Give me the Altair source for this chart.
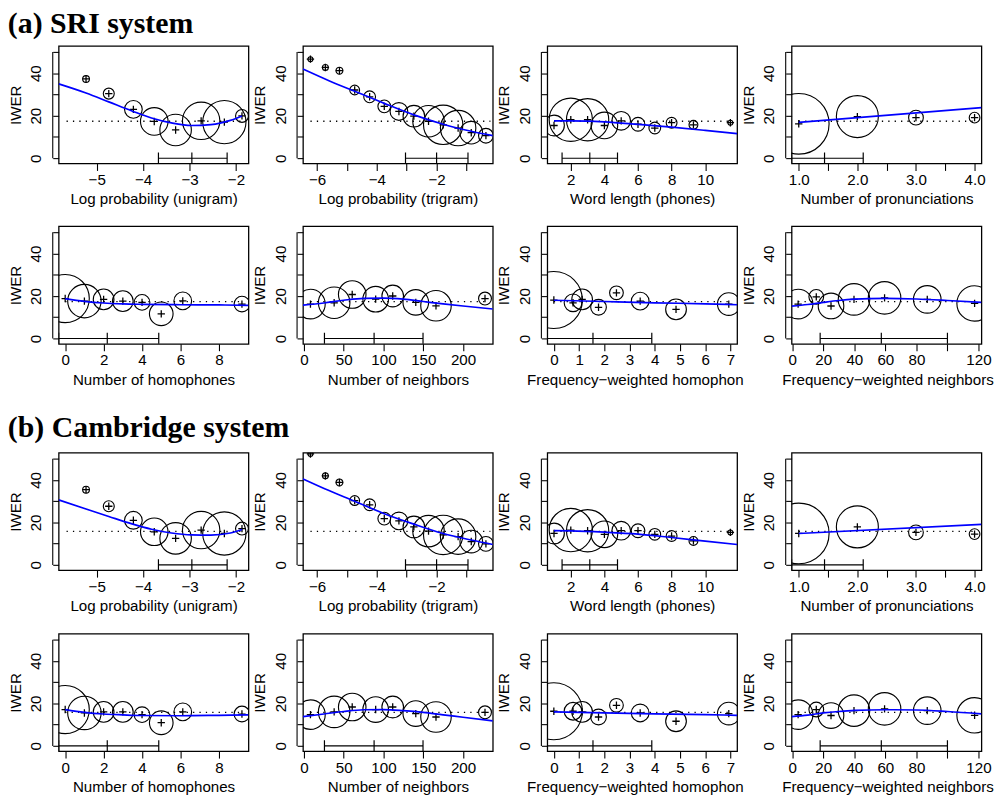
import altair as alt
import pandas as pd

SANS = "Liberation Sans"
SERIF = "Liberation Serif"
FS = 15.4

# ---------------- data ----------------
SRI_MEAN = 17.4
CAM_MEAN = 15.8

# Log probability (unigram)
unigram_x = [-5.23, -4.74, -4.21, -3.76, -3.30, -2.75, -2.25, -1.87]
unigram_n = [0.8, 2.1, 5.5, 13.3, 17.4, 24.5, 32.8, 2.9]
unigram_sri = [37.3, 30.4, 23.0, 17.3, 13.3, 17.6, 17.0, 19.9]
unigram_cam = [35.4, 27.6, 21.0, 15.6, 12.5, 16.4, 14.8, 17.1]
unigram_fit_x = [-5.82, -5.23, -4.74, -4.24, -3.82, -3.39, -2.96, -2.54, -2.12, -1.87]
unigram_fit_sri = [35.0, 30.7, 26.5, 22.2, 18.9, 16.6, 15.4, 15.8, 17.8, 19.9]
unigram_fit_cam = [30.6, 26.3, 22.8, 19.3, 16.8, 15.0, 14.1, 14.0, 15.0, 16.7]
unigram_span = [-5.65, -1.80]
unigram_quart = [-3.67, -2.95, -2.19]
unigram_domain = [-5.82, -1.73]
unigram_ticks = [-5, -4, -3, -2]
unigram_labeled = [-5, -4, -3, -2]

# Log probability (trigram)
trigram_x = [-6.22, -5.72, -5.25, -4.74, -4.24, -3.75, -3.26, -2.76, -2.27, -1.78, -1.28, -0.84, -0.35]
trigram_n = [0.42, 0.61, 0.83, 1.69, 2.44, 2.86, 5.49, 8.2, 17.4, 27.1, 22.0, 8.97, 3.81]
trigram_sri = [46.6, 42.7, 41.2, 32.1, 28.9, 24.4, 22.0, 19.8, 17.4, 15.7, 14.2, 12.0, 10.6]
trigram_cam = [52.2, 41.9, 38.8, 30.3, 28.3, 21.8, 20.7, 17.9, 15.9, 14.1, 13.3, 11.0, 9.9]
trigram_fit_x = [-6.47, -5.6, -4.74, -3.75, -2.76, -1.78, -0.84, -0.12]
trigram_fit_sri = [42.0, 36.5, 31.5, 25.8, 20.4, 16.0, 12.7, 10.6]
trigram_fit_cam = [40.5, 35.0, 30.0, 24.1, 19.2, 14.8, 11.7, 9.6]
trigram_span = [-6.22, -0.2]
trigram_quart = [-3.04, -2.0, -0.95]
trigram_domain = [-6.47, -0.12]
trigram_ticks = [-6, -5, -4, -3, -2, -1]
trigram_labeled = [-6, -4, -2]

# Word length (phones)
wordlen_x = [1, 2, 3, 4, 5, 6, 7, 8, 9.3, 11.5]
wordlen_n = [7.5, 32.8, 31.3, 12.4, 6.1, 3.3, 2.4, 2.05, 1.37, 0.42]
wordlen_sri = [15.4, 18.1, 18.1, 15.4, 17.6, 16.0, 14.2, 16.7, 15.7, 16.7]
wordlen_cam = [14.8, 16.4, 16.1, 14.4, 16.1, 16.1, 14.4, 13.6, 11.3, 15.3]
wordlen_fit_x = [1, 2, 4, 6, 8, 10, 11.9]
wordlen_fit_sri = [17.6, 17.6, 17.1, 15.9, 14.6, 13.1, 11.6]
wordlen_fit_cam = [16.1, 16.0, 15.4, 14.5, 12.9, 11.2, 9.6]
wordlen_span = [1, 11.5]
wordlen_quart = [1.48, 3.13, 4.78]
wordlen_domain = [0.6, 11.9]
wordlen_ticks = [2, 4, 6, 8, 10]
wordlen_labeled = [2, 4, 6, 8, 10]

# Number of pronunciations
pron_x = [1, 2, 3, 4]
pron_n = [64.5, 30.9, 3.8, 2.0]
pron_sri = [16.2, 19.6, 19.1, 19.1]
pron_cam = [14.8, 17.9, 15.3, 14.5]
pron_fit_x = [1.0, 4.117]
pron_fit_sri = [16.9, 23.8]
pron_fit_cam = [14.8, 19.1]
pron_span = [1, 4]
pron_quart = [0.878, 1.44, 2.1]
pron_domain = [0.878, 4.117]
pron_ticks = [1.0, 1.5, 2.0, 2.5, 3.0, 3.5, 4.0]
pron_labeled = [1.0, 2.0, 3.0, 4.0]

# Number of homophones
homoph_x = [0, 1, 2, 3, 4, 5, 6.12, 9.2]
homoph_n = [40.7, 19.6, 7.5, 7.5, 4.3, 9.8, 5.5, 4.3]
homoph_sri = [18.8, 17.6, 18.4, 17.6, 17.0, 11.6, 17.7, 16.2]
homoph_cam = [17.1, 15.5, 16.0, 16.0, 14.7, 10.9, 16.0, 15.0]
homoph_fit_x = [0, 1, 2, 3, 4, 6, 8, 9.54]
homoph_fit_sri = [18.8, 17.5, 16.7, 16.3, 16.1, 15.9, 15.8, 15.6]
homoph_fit_cam = [17.1, 15.8, 15.0, 14.6, 14.3, 14.2, 14.4, 14.6]
homoph_span = [0, 9.2]
homoph_quart = [-0.34, 2.19, 4.87]
homoph_domain = [-0.34, 9.54]
homoph_ticks = [0, 2, 4, 6, 8]
homoph_labeled = [0, 2, 4, 6, 8]

# Number of neighbors
neigh_x = [8.2, 38, 60.7, 90.2, 111.6, 140.6, 166, 227.6]
neigh_n = [15.3, 17.4, 13.3, 11.5, 8.2, 11.5, 16.3, 2.9]
neigh_sri = [16.2, 16.8, 20.7, 18.5, 20.0, 17.0, 15.4, 18.8]
neigh_cam = [14.7, 16.0, 18.3, 17.1, 18.3, 15.2, 13.6, 15.8]
neigh_fit_x = [-1.2, 25, 50, 75, 100, 125, 150, 175, 200, 237.4]
neigh_fit_sri = [15.7, 16.7, 18.0, 18.9, 19.0, 18.5, 17.4, 16.3, 15.3, 13.9]
neigh_fit_cam = [13.8, 15.0, 16.2, 17.0, 17.1, 16.6, 15.8, 14.6, 13.5, 11.8]
neigh_span = [8.2, 227.6]
neigh_quart = [25.8, 88.2, 149.7]
neigh_domain = [-1.2, 237.4]
neigh_ticks = [0, 50, 100, 150, 200]
neigh_labeled = [0, 50, 100, 150, 200]

# Frequency-weighted homophones
fwhom_x = [0, 0.76, 1.12, 1.77, 2.48, 3.42, 4.84, 6.93]
fwhom_n = [57.0, 5.5, 7.5, 4.3, 3.3, 5.5, 7.5, 9.0]
fwhom_sri = [18.1, 16.8, 18.4, 14.7, 21.5, 17.6, 13.7, 16.2]
fwhom_cam = [16.3, 16.3, 16.0, 13.6, 19.1, 15.5, 11.6, 15.2]
fwhom_fit_x = [0, 2, 4, 6, 7.26]
fwhom_fit_sri = [18.0, 17.4, 16.8, 16.3, 15.9]
fwhom_fit_cam = [16.0, 15.5, 15.1, 14.7, 14.4]
fwhom_span = [0, 6.93]
fwhom_quart = [-0.26, 1.55, 3.88]
fwhom_domain = [-0.26, 7.26]
fwhom_ticks = [0, 1, 2, 3, 4, 5, 6, 7]
fwhom_labeled = [0, 1, 2, 3, 4, 5, 6, 7]

# Frequency-weighted neighbors
fwnei_x = [3.8, 15.5, 25, 39.8, 59.5, 87, 117.5]
fwnei_n = [15.3, 3.8, 11.5, 17.4, 18.5, 13.3, 22.0]
fwnei_sri = [16.2, 19.6, 15.3, 18.4, 19.1, 18.4, 16.5]
fwnei_cam = [14.7, 17.1, 14.3, 16.6, 17.4, 16.6, 14.4]
fwnei_fit_x = [-0.4, 10, 20, 30, 40, 60, 80, 100, 121.9]
fwnei_fit_sri = [15.2, 16.0, 17.0, 17.9, 18.5, 18.9, 18.6, 17.9, 17.0]
fwnei_fit_cam = [13.8, 14.5, 15.5, 16.2, 16.7, 17.0, 16.9, 16.2, 15.1]
fwnei_span = [3.8, 117.5]
fwnei_quart = [18.0, 57.4, 100.0]
fwnei_domain = [-0.4, 121.9]
fwnei_ticks = [0, 20, 40, 60, 80, 100, 120]
fwnei_labeled = [0, 20, 40, 60, 80, 120]

X_TITLES = ["Log probability (unigram)", "Log probability (trigram)", "Word length (phones)",
            "Number of pronunciations", "Number of homophones", "Number of neighbors",
            "Frequency\u2212weighted homophon", "Frequency\u2212weighted neighbors"]

Y_DOMAIN = [-2.5, 52.8]
Y_TICKS = [0, 10, 20, 30, 40, 50]
Y_LABELED = [0, 20, 40]

# ---------------- build ----------------
def var(prefix, title):
    g = globals()
    d = {k: g[f"{prefix}_{k}"] for k in
         ["x", "n", "sri", "cam", "fit_x", "fit_sri", "fit_cam", "span", "quart",
          "domain", "ticks", "labeled"]}
    d["title"] = title
    return d

VARS = [var(p, t) for p, t in zip(
    ["unigram", "trigram", "wordlen", "pron", "homoph", "neigh", "fwhom", "fwnei"], X_TITLES)]

# style only: horizontal placement of clipped axis titles
TITLE_STYLE = {6: dict(titleAlign="left", titleX=-21), 7: dict(titleAlign="left", titleX=-10)}
FORMATS = {3: ".1f"}


def label_expr(vals):
    return f"indexof({list(vals)}, datum.value) >= 0 ? datum.label : ''"


def panel(i, v, system, mean):
    xs = alt.Scale(domain=v["domain"], nice=False, zero=False)
    ys = alt.Scale(domain=Y_DOMAIN, nice=False, zero=False)
    xkw = dict(values=v["ticks"], labelExpr=label_expr(v["labeled"]), title=v["title"])
    xkw.update(TITLE_STYLE.get(i, {}))
    if i in FORMATS:
        xkw["format"] = FORMATS[i]
    xa = alt.Axis(**xkw)
    ya = alt.Axis(values=Y_TICKS, labelExpr=label_expr(Y_LABELED), title="IWER")

    def X(f):
        return alt.X(f, type="quantitative", scale=xs, axis=xa)

    def Y(f):
        return alt.Y(f, type="quantitative", scale=ys, axis=ya)

    pts = pd.DataFrame({"x": v["x"], "y": v[system], "n": v["n"]})
    fit = pd.DataFrame({"x": v["fit_x"], "y": v["fit_" + system]})
    span = pd.DataFrame({"x": [v["span"][0]], "x2": [v["span"][1]], "y": [mean]})
    q = v["quart"]
    bar = pd.DataFrame({"x": [q[0]], "x2": [q[2]], "y": [0.0]})
    qt = pd.DataFrame({"x": q})

    dotted = alt.Chart(span).mark_rule(color="black", strokeWidth=1.3, strokeDash=[1.3, 5.2],
                                       clip=True).encode(x=X("x"), x2="x2", y=Y("y"))
    barh = alt.Chart(bar).mark_rule(color="black", strokeWidth=1.2, clip=True).encode(
        x=X("x"), x2="x2", y=Y("y"))
    bart = alt.Chart(qt).mark_rule(color="black", strokeWidth=1.2, clip=True).encode(
        x=X("x"), y=alt.YDatum(-2.6, type="quantitative", scale=ys, axis=ya), y2=alt.Y2Datum(2.7))
    yline = alt.Chart(span).mark_rule(color="black", strokeWidth=1.1).encode(
        x=alt.value(-6), y=alt.YDatum(0, type="quantitative", scale=ys, axis=ya), y2=alt.Y2Datum(50))
    circ = alt.Chart(pts).mark_point(shape="circle", filled=False, color="black", strokeWidth=1.15,
                                     opacity=1, clip=True).encode(
        x=X("x"), y=Y("y"),
        size=alt.Size("n:Q", scale=alt.Scale(domain=[0, 100], range=[0, 5900]), legend=None))
    plus = alt.Chart(pts).mark_point(shape="M-1,0H1M0,-1V1", size=56, filled=False, color="black",
                                     strokeWidth=1.3, opacity=1, clip=True).encode(x=X("x"), y=Y("y"))
    line = alt.Chart(fit).mark_line(color="#0000ff", strokeWidth=1.7, clip=True,
                                    interpolate="monotone").encode(x=X("x"), y=Y("y"))
    return alt.layer(dotted, barh, bart, yline, circ, plus, line).properties(width=193, height=119.5)


def block(system, mean, title, row_gap, title_offset):
    panels = [panel(i, v, system, mean) for i, v in enumerate(VARS)]
    return alt.concat(*panels, columns=4, spacing={"row": row_gap, "column": 55.4}, bounds="flush",
                      title=alt.TitleParams(title, anchor="start", frame="bounds", offset=title_offset,
                                            font=SERIF, fontSize=30.3, fontWeight="bold", color="black"))


chart = alt.vconcat(
    block("sri", SRI_MEAN, "(a) SRI system", 63.3, 5.9),
    block("cam", CAM_MEAN, "(b) Cambridge system", 64.0, 9.0),
    spacing=25.5,
).properties(
    padding={"left": -0.5, "top": -5.0, "right": 0, "bottom": 0}
).configure_view(
    stroke="black", strokeWidth=1.3
).configure_axis(
    labelFont=SANS, labelFontSize=FS, titleFont=SANS, titleFontSize=FS, titleFontWeight="normal",
    labelColor="black", titleColor="black", tickColor="black", tickWidth=1.1, domain=False,
    grid=False, labelFlush=False, labelOverlap=False
).configure_axisX(
    tickSize=7, labelPadding=2.5, titlePadding=4
).configure_axisY(
    tickSize=6, labelPadding=9, labelAngle=270, labelAlign="center", labelBaseline="bottom",
    titlePadding=6
)

chart.save("out.html", embed_options={"renderer": "svg", "actions": False})
